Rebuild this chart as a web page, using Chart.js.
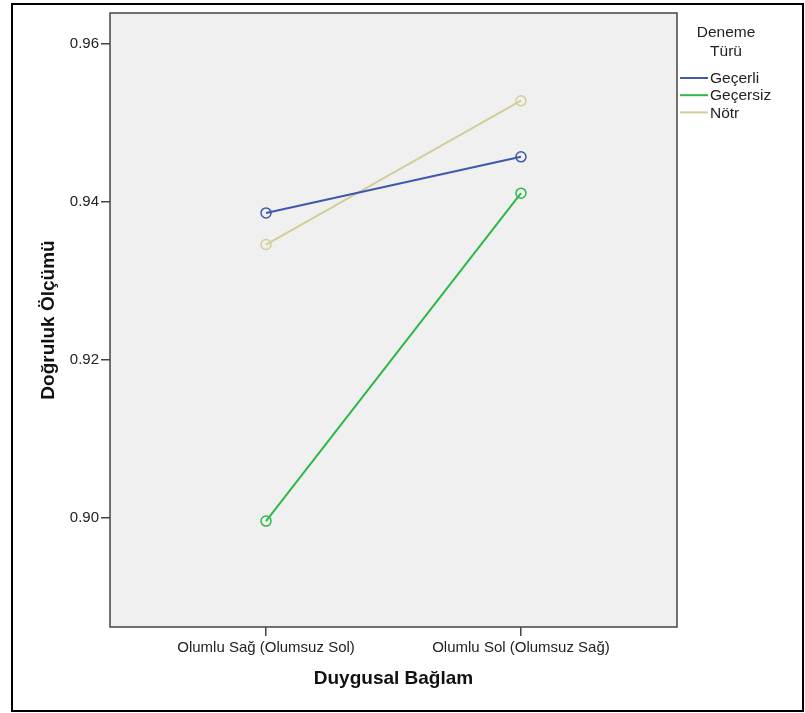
<!DOCTYPE html>
<html>
<head>
<meta charset="utf-8">
<script src="https://cdn.jsdelivr.net/npm/chart.js@4"></script>
<style>
  html, body { margin: 0; padding: 0; background: #fff; }
  #wrap { width: 805px; height: 713px; position: relative; }
</style>
</head>
<body>
<div id="wrap"><canvas id="chart" width="805" height="713"></canvas></div>
<script>
// Data
const categories = ['Olumlu Sağ (Olumsuz Sol)', 'Olumlu Sol (Olumsuz Sağ)'];
const seriesNames = ['Geçerli', 'Geçersiz', 'Nötr'];
const gecerli = [0.9386, 0.9457];
const gecersiz = [0.8996, 0.9411];
const notr = [0.9346, 0.9528];
const yTicks = [0.90, 0.92, 0.94, 0.96];
const colors = ['#3e58ac', '#2eb848', '#d3ce97'];

const FONT = '"Liberation Sans", Arial, sans-serif';

function toPoints(values) {
    return values.map((v, i) => ({ x: i, y: v }));
}

// Plot background, frame, outer border and legend
const decor = {
    id: 'decor',
    beforeDraw(chart) {
        const { ctx, chartArea: a } = chart;
        ctx.save();
        ctx.fillStyle = '#f0f0f0';
        ctx.fillRect(a.left, a.top, a.right - a.left, a.bottom - a.top);
        ctx.restore();
    },
    afterDraw(chart) {
        const { ctx, chartArea: a } = chart;
        ctx.save();
        // plot frame
        ctx.strokeStyle = '#444';
        ctx.lineWidth = 1.5;
        ctx.strokeRect(a.left, a.top, a.right - a.left, a.bottom - a.top);
        // outer border
        ctx.strokeStyle = '#000';
        ctx.lineWidth = 2;
        ctx.strokeRect(12, 4, 791, 707);

        // legend
        ctx.fillStyle = '#222';
        ctx.font = '15.5px ' + FONT;
        ctx.textAlign = 'center';
        ctx.textBaseline = 'middle';
        ctx.fillText('Deneme', 726, 33);
        ctx.fillText('Türü', 726, 52);
        ctx.textAlign = 'left';
        chart.data.datasets.forEach((ds, i) => {
            const y = 78 + i * 17.2;
            ctx.strokeStyle = ds.borderColor;
            ctx.lineWidth = 2;
            ctx.beginPath();
            ctx.moveTo(680, y);
            ctx.lineTo(708, y);
            ctx.stroke();
            ctx.fillStyle = '#222';
            ctx.fillText(ds.label, 710, y + 1);
        });
        ctx.restore();
    }
};

const datasets = [gecerli, gecersiz, notr].map((vals, i) => ({
    label: seriesNames[i],
    data: toPoints(vals),
    borderColor: colors[i],
    backgroundColor: 'rgba(0,0,0,0)',
    borderWidth: 2,
    pointRadius: 5,
    pointBorderWidth: 1.5,
    pointBackgroundColor: 'rgba(0,0,0,0)',
    pointBorderColor: colors[i],
    tension: 0
}));

new Chart(document.getElementById('chart').getContext('2d'), {
    type: 'line',
    data: { datasets: datasets },
    options: {
        responsive: false,
        animation: false,
        layout: { padding: { left: 0, top: 13, right: 128, bottom: 0 } },
        plugins: {
            legend: { display: false },
            tooltip: { enabled: false }
        },
        scales: {
            x: {
                type: 'linear',
                min: -0.612,
                max: 1.612,
                afterFit: s => { s.height = 86; },
                grid: { drawOnChartArea: false, drawTicks: true, tickLength: 9, color: '#444', lineWidth: 1.5 },
                border: { display: false },
                ticks: {
                    stepSize: 1,
                    includeBounds: false,
                    autoSkip: false,
                    maxRotation: 0,
                    padding: 3,
                    color: '#222',
                    font: { family: FONT, size: 15 },
                    callback: v => categories[v] !== undefined ? categories[v] : ''
                },
                title: {
                    display: true,
                    text: 'Duygusal Bağlam',
                    color: '#111',
                    font: { family: FONT, size: 19, weight: 'bold' },
                    padding: { top: 0, bottom: 23 }
                }
            },
            y: {
                min: 0.8862,
                max: 0.9639,
                afterFit: s => { s.width = 110; },
                afterBuildTicks: s => { s.ticks = yTicks.map(v => ({ value: v })); },
                grid: { drawOnChartArea: false, drawTicks: true, tickLength: 9, color: '#444', lineWidth: 1.5 },
                border: { display: false },
                ticks: {
                    padding: 2,
                    color: '#222',
                    font: { family: FONT, size: 15 },
                    callback: v => v.toFixed(2)
                },
                title: {
                    display: true,
                    text: 'Doğruluk Ölçümü',
                    color: '#111',
                    font: { family: FONT, size: 19, weight: 'bold' },
                    padding: { top: 37, bottom: 0 }
                }
            }
        }
    },
    plugins: [decor]
});
</script>
</body>
</html>
